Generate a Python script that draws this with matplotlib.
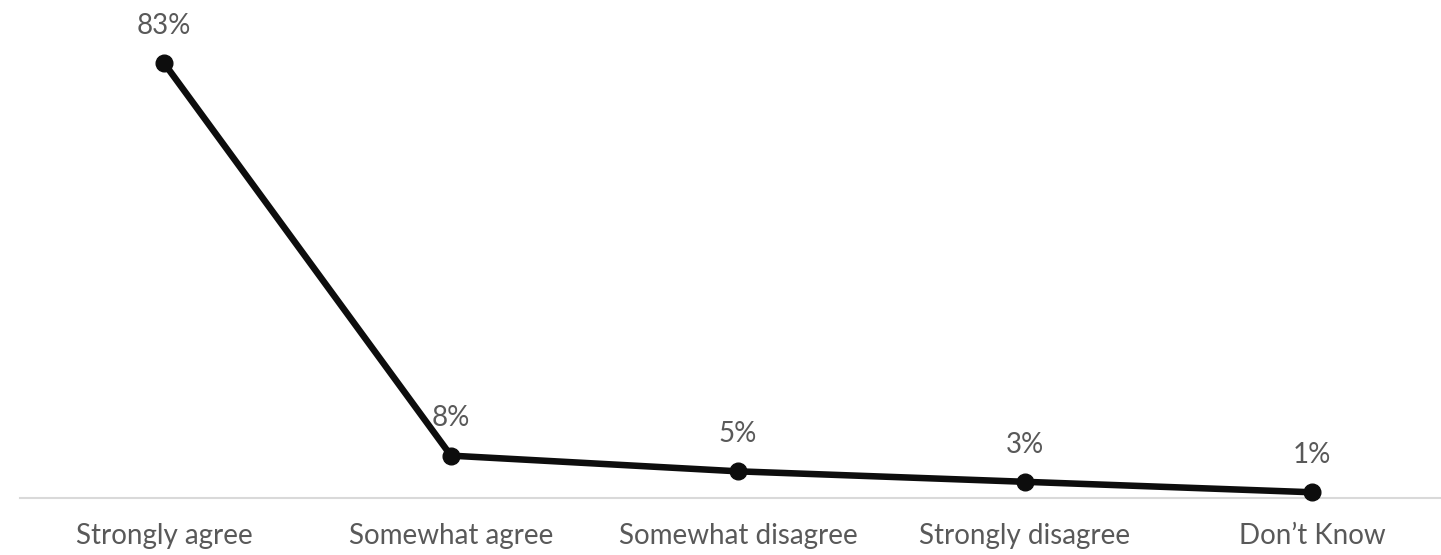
import matplotlib
matplotlib.use('Agg')
import matplotlib.pyplot as plt

#survey responses
categories = ['Strongly agree', 'Somewhat agree', 'Somewhat disagree',
              'Strongly disagree', 'Don\u2019t Know']
shares = [83, 8, 5, 3, 1]
labels = ['83%', '8%', '5%', '3%', '1%']

plt.rcParams['font.family'] = ['Lato', 'DejaVu Sans']

fig = plt.figure(figsize=(14.41, 5.55), dpi=100)
ax = fig.add_axes([0.0142, 0.1036, 0.9858, 0.849])

x = list(range(len(categories)))
ax.plot(x, shares, color='#0d0d0d', lw=4.7, marker='o', ms=12,
        solid_capstyle='round', zorder=3, clip_on=False)

#value labels above each point
for xi, v, t in zip(x, shares, labels):
    ax.annotate(t, (xi, v), textcoords='offset points', xytext=(0, 21),
                ha='center', va='baseline', fontsize=20, color='#595959')

ax.set_xlim(-0.5, 4.45)
ax.set_ylim(0, 90)
ax.set_xticks(x)
ax.set_xticklabels(categories, fontsize=20, color='#595959')
ax.tick_params(axis='x', length=0, pad=18)
ax.set_yticks([])
for s in ['top', 'left', 'right']:
    ax.spines[s].set_visible(False)
ax.spines['bottom'].set_color('#d9d9d9')
ax.spines['bottom'].set_linewidth(1.5)

plt.savefig('out.png', dpi=100)
